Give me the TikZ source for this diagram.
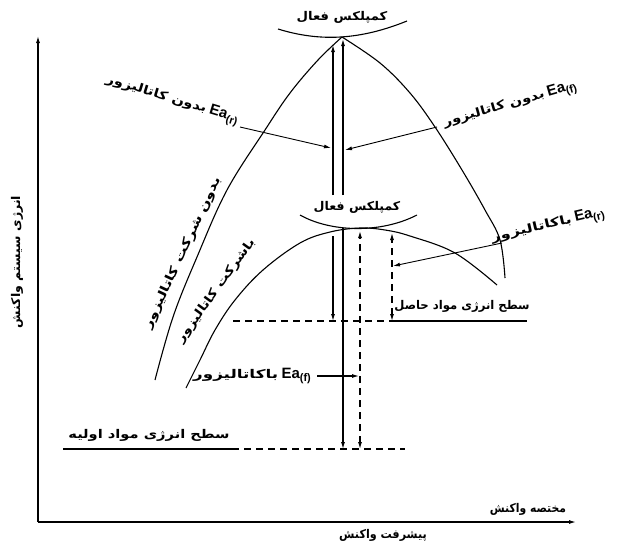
\documentclass[tikz,border=0pt]{standalone}
\usepackage{fontspec}
\usepackage{graphicx}
\setmainfont{Liberation Sans}
\newfontfamily\ar[Script=Arabic]{DejaVu Sans}
\TeXXeTstate=1
\usetikzlibrary{arrows.meta}
\newcommand\Ea[1]{{\bfseries\fontsize{15}{15}\selectfont Ea}\raisebox{-0.55ex}{\bfseries\fontsize{11}{11}\selectfont(#1)}}
\newcommand\fa[2][1]{\scalebox{#1}[1]{\ar\bfseries\beginR #2\endR}}
\begin{document}
\begin{tikzpicture}[x=1pt,y=-1pt,
  curve/.style={line width=1.1pt},
  axis/.style={line width=1.2pt},
  dsh/.style={line width=1.1pt, dash pattern=on 7pt off 5pt},
  tip/.style={-{Latex[length=7pt,width=4pt]}},
  both/.style={{Latex[length=7pt,width=4pt]}-{Latex[length=7pt,width=4pt]}},
  lbl/.style={inner sep=0pt, font=\fontsize{12}{14}\selectfont}]
\useasboundingbox (0,0) rectangle (629,552);
% axes
\coordinate (O) at (38,522);
\coordinate (Ytop) at (38,36);
\coordinate (Xend) at (576,522);
\draw[axis,tip] (O) -- (Ytop);
\draw[axis,tip] (O) -- (Xend);
\node[lbl,rotate=90] (ylab) at (17,262) {\fa[1.05]{انرژی سیستم واکنش}};
\node[lbl] (xlab1) at (528,509) {\fa[0.9]{مختصه واکنش}};
\node[lbl] (xlab2) at (383,535) {\fa[0.93]{پیشرفت واکنش}};
% uncatalysed curve
\draw[curve] plot[smooth,tension=0.6] coordinates {(155,380) (173,317) (197,257) (227,190) (265,130) (290,93) (318,60) (342,37)};
\draw[curve] plot[smooth,tension=0.6] coordinates {(342,37) (380,63) (410,93) (435,127) (462,170) (485,210) (500,240) (505,278)};
% catalysed curve
\draw[curve] plot[smooth,tension=0.6] coordinates {(186,388) (200,360) (215,330) (235,300) (263,270) (300,243) (330,232) (360,228) (385,230) (410,236) (455,253) (497,285)};
% activated complex arcs
\draw[curve] (278,29) .. controls (320,42) and (360,40) .. (407,21);
\draw[curve] (300,215) .. controls (330,232) and (380,234) .. (417,215);
\node[lbl] (ac1) at (342,17) {\fa[1.1]{کمپلکس فعال}};
\node[lbl] (ac2) at (357,207) {\fa[1.05]{کمپلکس فعال}};
% levels
\coordinate (R0) at (63,449); \coordinate (R1) at (232,449); \coordinate (R2) at (405,449);
\coordinate (P0) at (233,321); \coordinate (P1) at (392,321); \coordinate (P2) at (527,321);
\draw[axis] (R0) -- (R1);
\draw[dsh] (R1) -- (R2);
\draw[dsh] (P0) -- (P1);
\draw[axis] (P1) -- (P2);
\node[lbl] (rlab) at (149,435) {\fa[1.22]{سطح انرژی مواد اولیه}};
\node[lbl] (plab) at (462,306) {\fa[0.97]{سطح انرژی مواد حاصل}};
% vertical energy arrows
\coordinate (a1) at (333,45); \coordinate (a1b) at (333,195);
\coordinate (a1c) at (333,236); \coordinate (a1d) at (333,321);
\coordinate (a2) at (343,39); \coordinate (a2b) at (343,195);
\coordinate (a2c) at (343,228); \coordinate (a2d) at (343,449);
\draw[curve,tip] (a1b) -- (a1);
\draw[curve,tip] (a1c) -- (a1d);
\draw[curve,tip] (a2b) -- (a2);
\draw[curve,tip] (a2c) -- (a2d);
\coordinate (d1) at (360,231); \coordinate (d1b) at (360,449);
\coordinate (d2) at (392,233); \coordinate (d2b) at (392,321);
\draw[dsh,both] (d1b) -- (d1);
\draw[dsh,both] (d2b) -- (d2);
% curve labels
\node[lbl,rotate=65] (un) at (183,253) {\fa[1.3]{بدون شرکت کاتالیزور}};
\node[lbl,rotate=54] (wi) at (216,291) {\fa[1.2]{باشرکت کاتالیزور}};
% Ea labels and pointers
\node[lbl,rotate=-17] (Lr) at (172,100) {\fa[1.23]{بدون کاتالیزور} \Ea{r}};
\node[lbl,rotate=16] (Lf) at (510,105) {\fa[1.23]{بدون کاتالیزور} \Ea{f}};
\node[lbl,rotate=13] (Lrc) at (548,226) {\fa[1.35]{باکاتالیزور} \Ea{r}};
\node[lbl] (Lfc) at (252,376) {\fa[1.4]{باکاتالیزور} \Ea{f}};
\coordinate (p1) at (240,127); \coordinate (q1) at (331,148);
\coordinate (p2) at (437,127); \coordinate (q2) at (345,150);
\coordinate (p3) at (502,243); \coordinate (q3) at (393,266);
\coordinate (p4) at (317,376); \coordinate (q4) at (359,376);
\draw[line width=0.9pt,tip] (p1) -- (q1);
\draw[line width=0.9pt,tip] (p2) -- (q2);
\draw[line width=0.9pt,tip] (p3) -- (q3);
\draw[line width=1.1pt,tip] (p4) -- (q4);
\end{tikzpicture}
\end{document}
